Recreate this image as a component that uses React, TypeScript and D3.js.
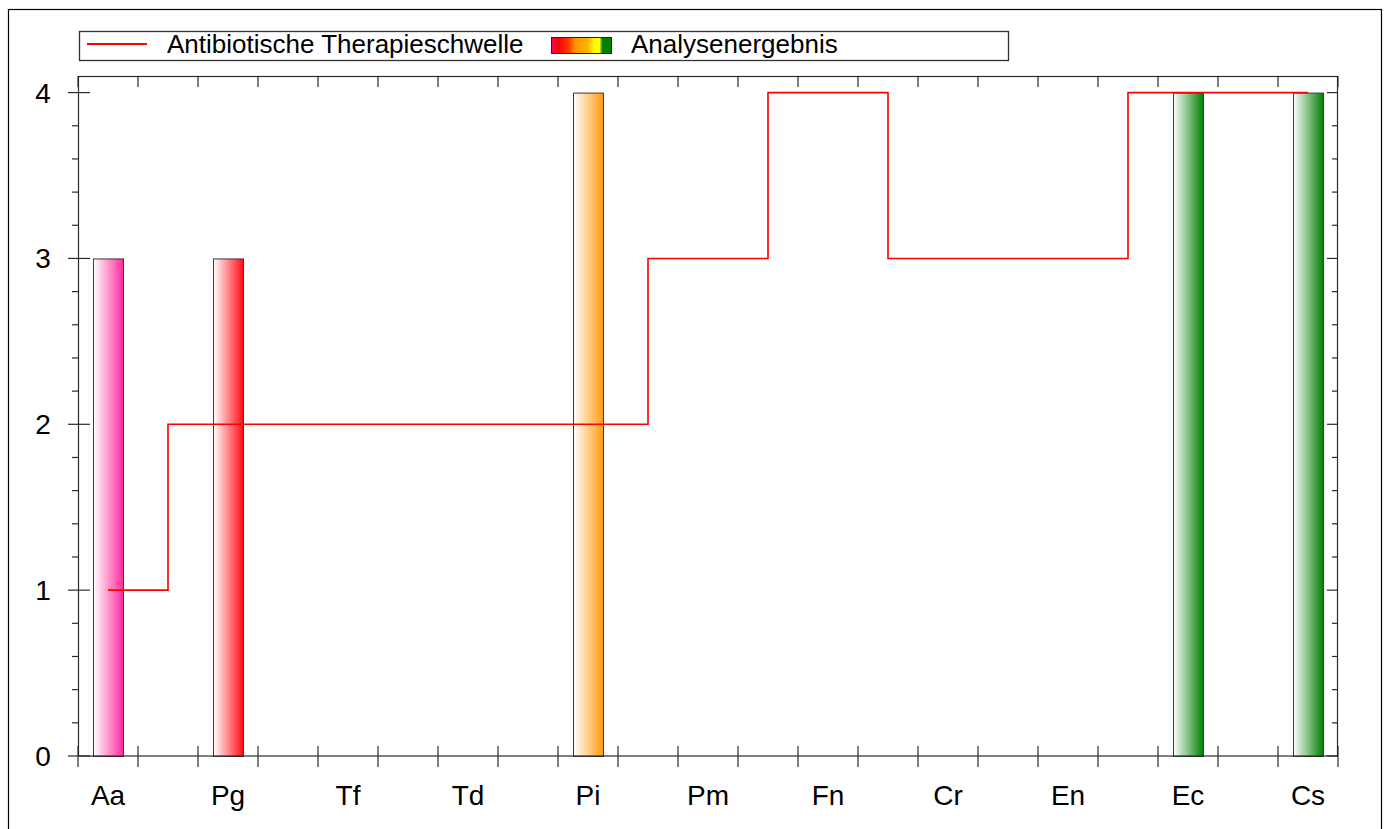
import React from 'react';
import * as d3 from 'd3';

const categories = ['Aa', 'Pg', 'Tf', 'Td', 'Pi', 'Pm', 'Fn', 'Cr', 'En', 'Ec', 'Cs'];
const results = [3, 3, 0, 0, 4, 0, 0, 0, 0, 4, 4];
const thresholds = [1, 2, 2, 2, 2, 3, 4, 3, 3, 4, 4];
const barColors = ['#ff2a9c', '#ff0a14', '#ff0a14', '#ff0a14', '#ff9a10', '#ff9a10', '#ffe000', '#ffe000', '#008000', '#008000', '#008000'];
const yTickLabels = ['0', '1', '2', '3', '4'];

const W = 1391;
const H = 829;
const FONT = '"Liberation Sans", Arial, sans-serif';

const App = () => {
  // plot area
  const x = d3.scaleLinear().domain([-0.25, categories.length - 0.75]).range([78, 1338]);
  const y = d3.scaleLinear().domain([0, 4.1]).range([756, 76]);
  const bw = x(0.125) - x(0);

  const majorY = yTickLabels.map(Number);
  const minorY = d3.range(1, 21).map(i => i * 0.2).filter(v => Math.abs(v - Math.round(v)) > 1e-6);
  const xTicks = d3.range(0, categories.length * 2 + 1).map(i => -0.25 + i * 0.5);

  const line = d3.line<number>()
    .x((_, i) => x(i))
    .y(d => y(d))
    .curve(d3.curveStep);

  const axis = '#2a2a2a';

  return (
    <svg width={W} height={H} style={{ position: 'absolute', left: 0, top: 0, background: '#fff' }} fontFamily={FONT}>
      <defs>
        {barColors.map((c, i) => (
          <linearGradient key={i} id={`g${i}`} x1="0" x2="1" y1="0" y2="0">
            <stop offset="0" stopColor="#fff" />
            <stop offset="1" stopColor={c} />
          </linearGradient>
        ))}
        <linearGradient id="legendGrad" x1="0" x2="1" y1="0" y2="0">
          <stop offset="0" stopColor="#ff0060" />
          <stop offset="0.12" stopColor="#ff0000" />
          <stop offset="0.3" stopColor="#ff4000" />
          <stop offset="0.4" stopColor="#ff9900" />
          <stop offset="0.6" stopColor="#ffb000" />
          <stop offset="0.72" stopColor="#ffff00" />
          <stop offset="0.8" stopColor="#ffff00" />
          <stop offset="0.85" stopColor="#008000" />
          <stop offset="1" stopColor="#008000" />
        </linearGradient>
      </defs>

      {/* outer frame */}
      <rect x={8.5} y={9.5} width={1373} height={840} fill="none" stroke="#000" strokeWidth={1.2} />

      {/* legend */}
      <rect x={79.5} y={31.5} width={929} height={29} fill="#fff" stroke="#333" strokeWidth={1.3} />
      <line x1={87} x2={147} y1={44} y2={44} stroke="#ff0000" strokeWidth={1.8} />
      <text x={167} y={53} fontSize={26} fill="#000">Antibiotische Therapieschwelle</text>
      <rect x={551.5} y={37.5} width={60} height={16} fill="url(#legendGrad)" stroke="#222" strokeWidth={1} />
      <text x={631} y={53} fontSize={26} fill="#000">Analysenergebnis</text>

      {/* bars */}
      {results.map((v, i) => v > 0 && (
        <rect key={categories[i]} x={x(i) - bw + 0.5} y={y(v) + 0.5} width={bw * 2} height={y(0) - y(v)}
          fill={`url(#g${i})`} stroke="#3a3a3a" strokeWidth={1} />
      ))}

      {/* threshold step line */}
      <path d={line(thresholds) || ''} fill="none" stroke="#ff0000" strokeWidth={1.6} />

      {/* plot frame */}
      <rect x={78.5} y={76.5} width={1259} height={679.5} fill="none" stroke={axis} strokeWidth={1.2} />

      {/* y ticks left + right */}
      {majorY.map(v => (
        <g key={'M' + v}>
          <line x1={68} x2={90} y1={y(v)} y2={y(v)} stroke={axis} strokeWidth={1.2} />
          <line x1={1327} x2={1338} y1={y(v)} y2={y(v)} stroke={axis} strokeWidth={1.2} />
        </g>
      ))}
      {minorY.map(v => (
        <g key={'m' + v}>
          <line x1={72} x2={78} y1={y(v)} y2={y(v)} stroke={axis} strokeWidth={1.2} />
          <line x1={1332} x2={1338} y1={y(v)} y2={y(v)} stroke={axis} strokeWidth={1.2} />
        </g>
      ))}
      {yTickLabels.map(t => (
        <text key={t} x={43} y={y(+t) + 10} textAnchor="middle" fontSize={28} fill="#000">{t}</text>
      ))}

      {/* x ticks bottom + top */}
      {xTicks.map(v => (
        <g key={'x' + v}>
          <line x1={x(v)} x2={x(v)} y1={746} y2={767} stroke={axis} strokeWidth={1.2} />
          <line x1={x(v)} x2={x(v)} y1={76} y2={87} stroke={axis} strokeWidth={1.2} />
        </g>
      ))}
      {categories.map((c, i) => (
        <text key={c} x={x(i)} y={805} textAnchor="middle" fontSize={28} fill="#000">{c}</text>
      ))}
    </svg>
  );
};

export default App;
